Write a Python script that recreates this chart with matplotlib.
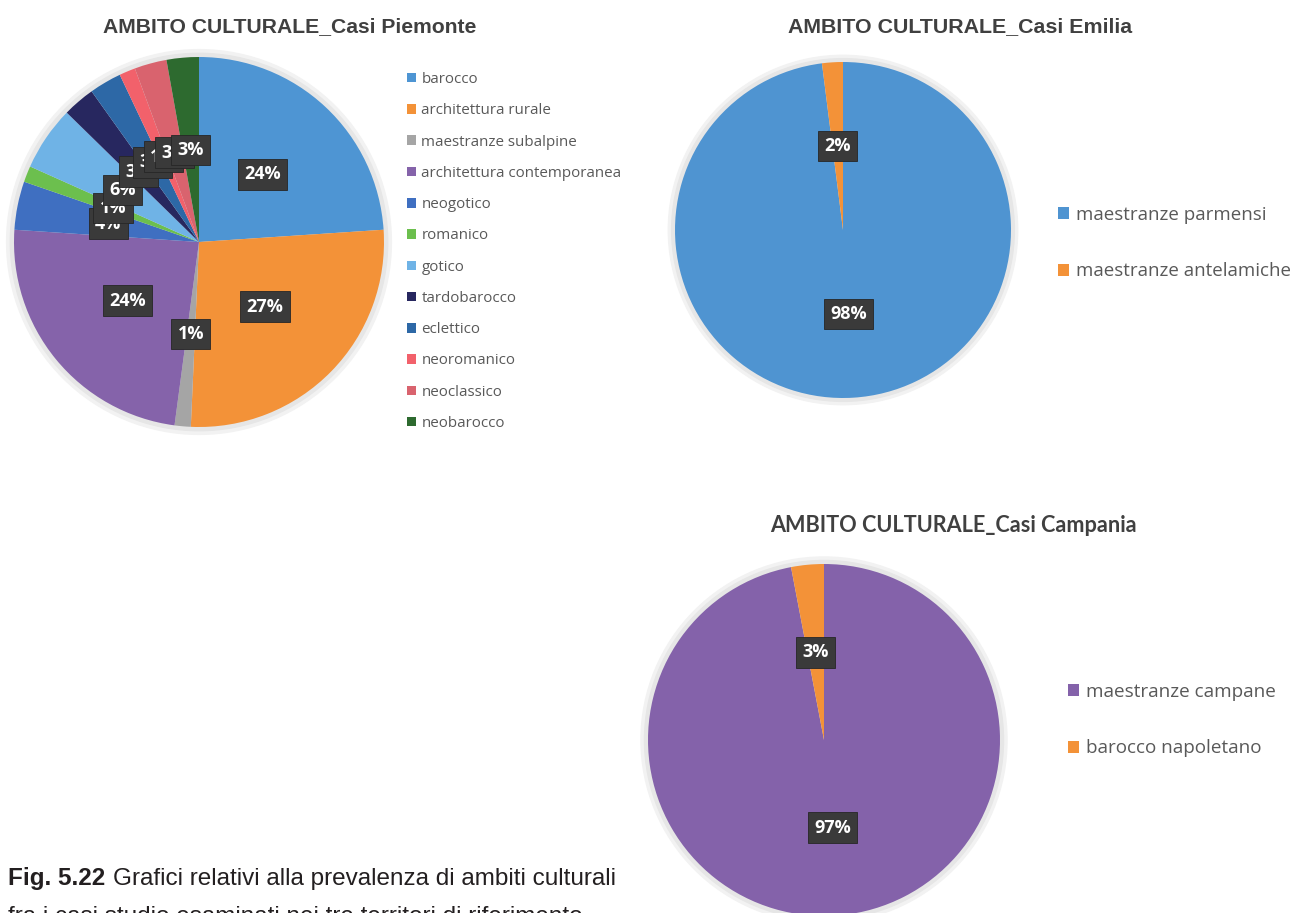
import matplotlib.pyplot as plt
from matplotlib.patches import Circle

# --- data -------------------------------------------------------------
piemonte_labels = ["barocco", "architettura rurale", "maestranze subalpine",
                   "architettura contemporanea", "neogotico", "romanico", "gotico",
                   "tardobarocco", "eclettico", "neoromanico", "neoclassico", "neobarocco"]
piemonte_counts = [17, 19, 1, 17, 3, 1, 4, 2, 2, 1, 2, 2]
piemonte_colors = ["#4e95d3", "#f39238", "#a5a5a5", "#8563aa", "#3f6fc1", "#6cbf4e",
                   "#6fb3e6", "#27275f", "#2d68a6", "#f2616b", "#d9636e", "#2d6a2f"]

emilia_labels = ["maestranze parmensi", "maestranze antelamiche"]
emilia_values = [98, 2]
emilia_colors = ["#4f94d1", "#f39238"]

campania_labels = ["maestranze campane", "barocco napoletano"]
campania_values = [97, 3]
campania_colors = ["#8462aa", "#f39238"]

W, H = 1292, 913
fig = plt.figure(figsize=(W / 100, H / 100), dpi=100)
fig.patch.set_facecolor("white")

LABEL_FONT = ["Open Sans", "DejaVu Sans"]
TEXT_GREY = "#595959"


def pie_axes(cx, cy, r):
    # square axes in pixel coords, pie radius = r pixels
    return fig.add_axes([(cx - r) / W, 1 - (cy + r) / H, 2 * r / W, 2 * r / H])


def draw_pie(ax, values, colors):
    # soft excel-like glow round the pie
    for rad, col in [(1.04, "#f2f2f2"), (1.02, "#e6e6e6")]:
        ax.add_patch(Circle((0, 0), rad, color=col, zorder=0, clip_on=False))
    wedges, _, autotexts = ax.pie(values, colors=colors, startangle=90, counterclock=False,
                                  autopct="%1.0f%%", pctdistance=0.5,
                                  wedgeprops=dict(linewidth=0))
    for t in autotexts:
        t.set(color="white", fontweight="bold", fontsize=13, family=LABEL_FONT)
        t.set_bbox(dict(boxstyle="square,pad=0.35", fc="#3a3a3a", ec="#262626", lw=0.6))
    ax.set_xlim(-1, 1)
    ax.set_ylim(-1, 1)
    ax.set_aspect("equal")
    return wedges


def legend_at(ax, wedges, labels, x, y, fs, spacing):
    ax.legend(wedges, labels, loc="upper left", bbox_to_anchor=(x / W, 1 - y / H),
              bbox_transform=fig.transFigure, frameon=False, borderpad=0, borderaxespad=0,
              handlelength=0.6, handleheight=0.6, handletextpad=0.35,
              labelspacing=spacing, prop=dict(family=LABEL_FONT, size=fs),
              labelcolor=TEXT_GREY)


# Piemonte
ax1 = pie_axes(199, 242, 185)
w1 = draw_pie(ax1, piemonte_counts, piemonte_colors)
legend_at(ax1, w1, piemonte_labels, 407, 72, 10.9, 1.075)
fig.text(290 / W, 1 - 27 / H, "AMBITO CULTURALE_Casi Piemonte", ha="center", va="center",
         fontsize=15.2, fontweight="bold", color="#404040", family="Liberation Sans")

# Emilia
ax2 = pie_axes(843, 230, 168)
w2 = draw_pie(ax2, emilia_values, emilia_colors)
legend_at(ax2, w2, emilia_labels, 1058, 206, 13.5, 2.05)
fig.text(960 / W, 1 - 27 / H, "AMBITO CULTURALE_Casi Emilia", ha="center", va="center",
         fontsize=15.4, fontweight="bold", color="#404040", family="Liberation Sans")

# Campania
ax3 = pie_axes(824, 740, 176)
w3 = draw_pie(ax3, campania_values, campania_colors)
legend_at(ax3, w3, campania_labels, 1068, 683, 13.6, 2.03)
fig.text(953 / W, 1 - 525 / H, "AMBITO CULTURALE_Casi Campania", ha="center", va="center",
         fontsize=15.6, fontweight="bold", color="#404040", family=["Lato", "DejaVu Sans"])

# Caption (second line is cut by the page edge, as in the source)
cap_font = ["Liberation Sans"]
fig_lbl = fig.text(8 / W, 1 - 885 / H, "Fig. 5.22", ha="left", va="baseline",
                   fontsize=17.5, fontweight="bold", color="#231f20", family=cap_font)
renderer = fig.canvas.get_renderer()
bb = fig_lbl.get_window_extent(renderer)
fig.text((bb.x1 + 8) / W, 1 - 885 / H, "Grafici relativi alla prevalenza di ambiti culturali",
         ha="left", va="baseline", fontsize=17.5, color="#231f20", family=cap_font)
fig.text(8 / W, 1 - 923 / H, "fra i casi studio esaminati nei tre territori di riferimento.",
         ha="left", va="baseline", fontsize=17.5, color="#231f20", family=cap_font)

fig.savefig("out.png", dpi=100)
